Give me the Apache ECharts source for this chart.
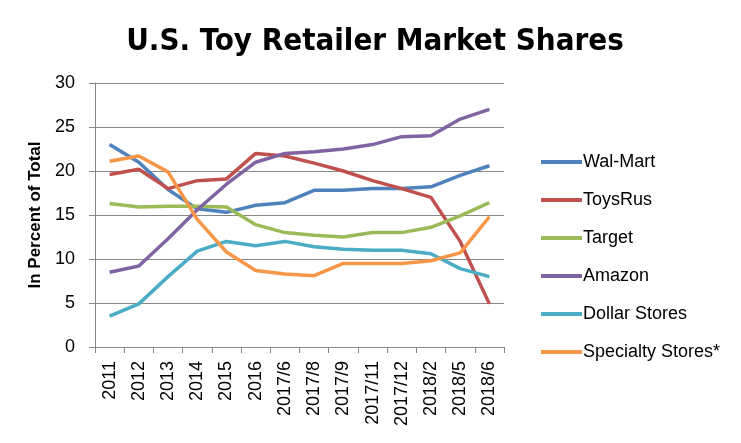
<!DOCTYPE html>
<html><head><meta charset="utf-8">
<script src="https://cdn.jsdelivr.net/npm/echarts@6/dist/echarts.min.js"></script>
<style>html,body{margin:0;padding:0;background:#fff}#c{width:741px;height:443px}</style>
</head><body><div id="c"></div>
<script>
const categories = ['2011','2012','2013','2014','2015','2016','2017/6','2017/8','2017/9','2017/11','2017/12','2018/2','2018/5','2018/6'];
const walMart   = [23.0, 21.0, 17.9, 15.7, 15.3, 16.1, 16.4, 17.8, 17.8, 18.0, 18.0, 18.2, 19.5, 20.6];
const toysRus   = [19.6, 20.2, 18.0, 18.9, 19.1, 22.0, 21.7, 20.9, 20.0, 18.9, 18.0, 17.0, 12.0, 4.9];
const target    = [16.3, 15.9, 16.0, 16.0, 15.9, 13.9, 13.0, 12.7, 12.5, 13.0, 13.0, 13.6, 14.9, 16.4];
const amazon    = [8.5, 9.2, 12.3, 15.6, 18.5, 21.0, 22.0, 22.2, 22.5, 23.0, 23.9, 24.0, 25.9, 27.0];
const dollar    = [3.5, 4.9, 8.0, 10.9, 12.0, 11.5, 12.0, 11.4, 11.1, 11.0, 11.0, 10.6, 8.9, 8.0];
const specialty = [21.1, 21.7, 19.9, 14.5, 10.8, 8.7, 8.3, 8.1, 9.5, 9.5, 9.5, 9.8, 10.7, 14.8];
const seriesNames = ['Wal-Mart','ToysRus','Target','Amazon','Dollar Stores','Specialty Stores*'];
const seriesData = [walMart, toysRus, target, amazon, dollar, specialty];
const colors = ['#4F81BD','#C0504D','#9BBB59','#8064A2','#4BACC6','#F79646'];

const chart = echarts.init(document.getElementById('c'), null, {renderer:'canvas'});
chart.setOption({
  animation:false,
  color: colors,
  title:{
    text:'U.S. Toy Retailer Market Shares',
    left:370, textAlign:'center', top:21,
    textStyle:{fontFamily:'"DejaVu Sans Condensed","DejaVu Sans",sans-serif', fontWeight:'bold', fontSize:31, color:'#000'}
  },
  legend:{
    orient:'vertical', left:536, top:148,
    itemWidth:41, itemHeight:4, itemGap:20, icon:'rect',
    data: seriesNames,
    textStyle:{fontFamily:'"Liberation Sans",sans-serif', fontSize:18, color:'#000', lineHeight:18, padding:[0,0,0,-4]}
  },
  grid:{left:95, right:237, top:83, bottom:96},
  xAxis:{
    type:'category', data:categories, boundaryGap:true,
    axisLine:{lineStyle:{color:'#868686', width:1}},
    axisTick:{show:true, alignWithLabel:false, length:6, lineStyle:{color:'#868686'}},
    axisLabel:{rotate:90, fontFamily:'"Liberation Sans",sans-serif', fontSize:18, color:'#000', margin:14, interval:0}
  },
  yAxis:{
    type:'value', min:0, max:30, interval:5,
    name:'In Percent of Total', nameLocation:'middle', nameGap:40, nameRotate:90,
    nameTextStyle:{fontFamily:'"Liberation Sans",sans-serif', fontSize:17, fontWeight:'bold', color:'#000'},
    axisLine:{show:true, lineStyle:{color:'#868686'}},
    axisTick:{show:true, length:6, lineStyle:{color:'#868686'}},
    splitLine:{lineStyle:{color:'#868686', width:1}},
    axisLabel:{fontFamily:'"Liberation Sans",sans-serif', fontSize:18, color:'#000', margin:20}
  },
  series: seriesNames.map((n,i)=>({
    name:n, type:'line', data:seriesData[i], symbol:'none', smooth:false,
    lineStyle:{width:3.5, color:colors[i]}, itemStyle:{color:colors[i]}
  }))
});
</script></body></html>
